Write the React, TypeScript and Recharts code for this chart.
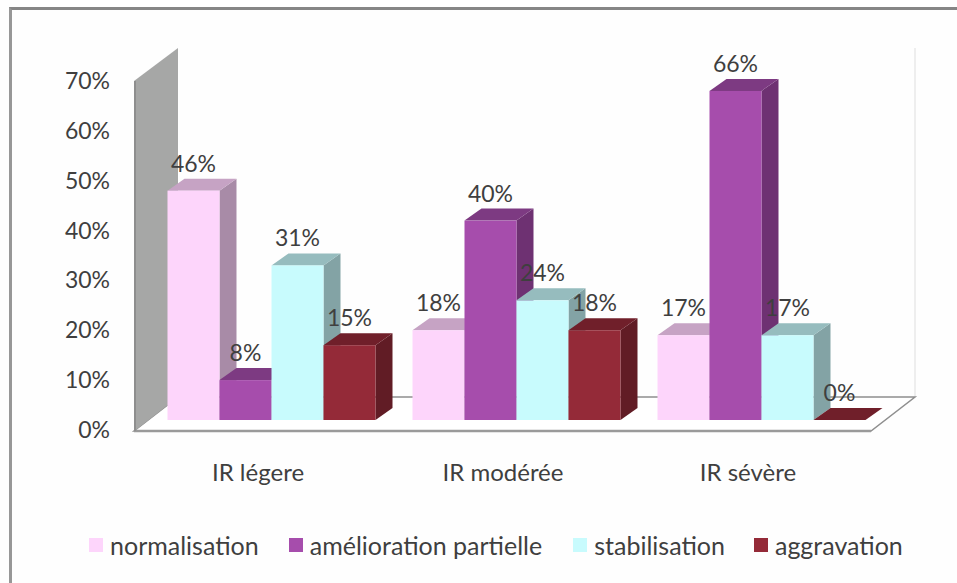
import { Bar, BarChart, LabelList, Legend, ReferenceArea, XAxis, YAxis } from "recharts";

const categories = ["IR légere", "IR modérée", "IR sévère"];
const normalisation = [46, 18, 17];
const amelioration = [8, 40, 66];
const stabilisation = [31, 24, 17];
const aggravation = [15, 18, 0];
const yTicks = [0, 10, 20, 30, 40, 50, 60, 70];

const data = categories.map((name, i) => ({
  name,
  normalisation: normalisation[i],
  amelioration: amelioration[i],
  stabilisation: stabilisation[i],
  aggravation: aggravation[i],
}));

const FONT = "Lato, 'Open Sans', sans-serif";
const TEXT = "#3f3f3f";
const DEPTH_X = 17;
const DEPTH_Y = 12;

const series = [
  { key: "normalisation", label: "normalisation", front: "#fdd5fb", top: "#c6a3c4", side: "#a88ba7" },
  { key: "amelioration", label: "amélioration partielle", front: "#a64dac", top: "#7d3a82", side: "#6e3172" },
  { key: "stabilisation", label: "stabilisation", front: "#c8fbfd", top: "#96bcbe", side: "#83a3a5" },
  { key: "aggravation", label: "aggravation", front: "#942a38", top: "#701f2a", side: "#611c25" },
];

function Box3D(props: any) {
  const { x, y, width, height, front, top, side } = props;
  const r = x + width;
  const b = y + height;
  return (
    <g>
      <polygon
        points={`${r},${y} ${r + DEPTH_X},${y - DEPTH_Y} ${r + DEPTH_X},${b - DEPTH_Y} ${r},${b}`}
        fill={side}
      />
      <polygon
        points={`${x},${y} ${x + DEPTH_X},${y - DEPTH_Y} ${r + DEPTH_X},${y - DEPTH_Y} ${r},${y}`}
        fill={top}
      />
      <rect x={x} y={y} width={width} height={height} fill={front} />
    </g>
  );
}

// back wall and floor, placed from the plot rectangle the reference area gets
function Backdrop(props: any) {
  const { x, y, width, height } = props;
  const b = y + height;
  const r = x + width;
  const frontL = x - 14.5;
  const backL = x + 29.5;
  const frontB = b + 11;
  const backB = b - 23;
  const backR = r + 31.5;
  return (
    <g>
      <line x1={backR} y1={y - 23} x2={backR} y2={backB} stroke="#e9e9e9" strokeWidth={1.5} />
      <polygon
        points={`${frontL},${frontB} ${r - 12.5},${frontB} ${backR},${backB} ${backL},${backB}`}
        fill="#ffffff"
        stroke="#8f8f8f"
        strokeWidth={1.5}
      />
      <line x1={frontL} y1={frontB} x2={r - 12.5} y2={frontB} stroke="#9a9a9a" strokeWidth={2.5} />
      <polygon
        points={`${frontL},${y + 10} ${backL},${y - 23} ${backL},${backB} ${frontL + 3},${frontB - 2} ${frontL},${frontB}`}
        fill="#a6a7a6"
      />
      <line x1={frontL + 1} y1={y + 10} x2={frontL + 1} y2={frontB} stroke="#8e8e8e" strokeWidth={2} />
    </g>
  );
}

function YTick(props: any) {
  const { y, payload } = props;
  return (
    <text x={110} y={y + 10} dy="0.35em" textAnchor="end" fontFamily={FONT} fontSize={23} fill={TEXT}>
      {payload.value}%
    </text>
  );
}

function XTick(props: any) {
  const { x, payload } = props;
  return (
    <text x={x - 13} y={473} dy="0.35em" textAnchor="middle" fontFamily={FONT} fontSize={24} fill={TEXT}>
      {payload.value}
    </text>
  );
}

function LegendRow() {
  const gaps = [0, 30, 31, 29];
  return (
    <div style={{ display: "flex", alignItems: "center", whiteSpace: "nowrap" }}>
      {series.map((s, i) => (
        <div key={s.key} style={{ display: "flex", alignItems: "center", marginLeft: gaps[i] }}>
          <span style={{ width: 14, height: 14, background: s.front, marginRight: 7 }} />
          <span style={{ fontFamily: FONT, fontSize: 25, color: TEXT }}>{s.label}</span>
        </div>
      ))}
    </div>
  );
}

export default function App() {
  return (
    <div style={{ position: "absolute", left: 0, top: 0, width: 957, height: 583, background: "#fefefe", overflow: "hidden" }}>
      <div
        style={{
          position: "absolute",
          left: 9,
          top: 7,
          width: 960,
          height: 600,
          borderLeft: "3px solid #979797",
          borderTop: "3px solid #858585",
        }}
      />
      <BarChart
        width={957}
        height={583}
        data={data}
        margin={{ top: 39, right: 73.5, bottom: 133, left: 0 }}
        barCategoryGap={19}
        barGap={0}
        style={{ position: "absolute", left: 0, top: 0 }}
      >
        <XAxis dataKey="name" height={30} axisLine={false} tickLine={false} tick={<XTick />} />
        <YAxis
          width={148.5}
          domain={[0, 70]}
          ticks={yTicks}
          interval={0}
          axisLine={false}
          tickLine={false}
          tick={<YTick />}
        />
        <ReferenceArea y1={0} y2={70} ifOverflow="visible" shape={<Backdrop />} />
        {series.map((s) => (
          <Bar
            key={s.key}
            dataKey={s.key}
            barSize={52}
            isAnimationActive={false}
            shape={<Box3D front={s.front} top={s.top} side={s.side} />}
          >
            <LabelList
              dataKey={s.key}
              position="top"
              offset={19}
              formatter={(v: any) => `${v}%`}
              style={{ fontFamily: FONT, fontSize: 23, fill: TEXT }}
            />
          </Bar>
        ))}
        <Legend
          verticalAlign="top"
          content={<LegendRow />}
          wrapperStyle={{ position: "absolute", left: 89, top: 530, width: 840, height: 32 }}
        />
      </BarChart>
    </div>
  );
}
